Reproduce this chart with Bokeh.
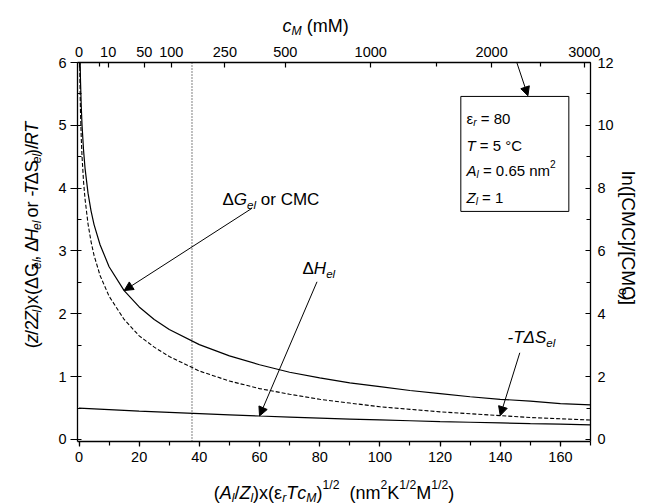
import math
from bokeh.plotting import figure
from bokeh.layouts import column, row
from bokeh.models import (Range1d, LinearAxis, FixedTicker, SingleIntervalTicker,
                          Label, Arrow, NormalHead, BoxAnnotation, Span)
from bokeh.embed import file_html
from bokeh.resources import INLINE

W, H = 645, 504
FL, FR, FT, FB = 77, 592, 62, 441     # plot frame edges in page pixels
TOP_H, BOT_H, LEFT_W, RIGHT_W = 38, 32, 48, 29
MID_H = H - TOP_H - BOT_H
MAIN_W = W - LEFT_W - RIGHT_W
FONT = "Liberation Sans"

# ---------------- data ----------------
x_curve = [0.2, 0.3, 0.5, 0.75, 1, 1.5, 2, 3, 4, 5, 7, 10, 15, 20, 25, 30, 40, 50,
           60, 70, 80, 90, 100, 110, 120, 130, 140, 150, 160, 170]
dG_el = [6.62, 6.21, 5.70, 5.30, 5.01, 4.61, 4.32, 3.92, 3.64, 3.42, 3.10, 2.75, 2.37,
         2.11, 1.91, 1.75, 1.51, 1.33, 1.19, 1.07, 0.98, 0.90, 0.84, 0.78, 0.73, 0.68,
         0.64, 0.61, 0.57, 0.55]
mTdS_el = [6.12, 5.71, 5.20, 4.80, 4.51, 4.11, 3.83, 3.43, 3.15, 2.93, 2.61, 2.28, 1.91,
           1.65, 1.47, 1.32, 1.09, 0.93, 0.81, 0.72, 0.64, 0.58, 0.52, 0.48, 0.44, 0.41,
           0.38, 0.35, 0.33, 0.31]
x_H = [0, 10, 20, 30, 40, 50, 60, 70, 80, 90, 100, 110, 120, 130, 140, 150, 160, 170]
dH_el = [0.50, 0.476, 0.453, 0.432, 0.411, 0.392, 0.374, 0.357, 0.340, 0.325, 0.311,
         0.298, 0.285, 0.274, 0.263, 0.252, 0.243, 0.233]

cm_major = [0, 10, 50, 100, 250, 500, 1000, 2000, 3000]   # top axis, mM
cm_minor = [5, 1500, 2500]
cm_marker = 150                                            # dotted line, mM

eps_r, T_K, A_l, Z_l = 80, 278.15, 0.65, 1


def x_of_cm(c):
    return round(A_l / Z_l * math.sqrt(eps_r * T_K * c / 1000.0), 4)


# ---------------- text helper (rich text from pieces) ----------------
WT = {' ': 278, '(': 333, ')': 333, ',': 278, '-': 333, '.': 278, '/': 278, '=': 584,
      'A': 667, 'C': 722, 'G': 778, 'H': 722, 'K': 667, 'M': 833, 'R': 722, 'S': 667,
      'T': 611, 'Z': 611, '[': 278, ']': 278, 'c': 500, 'e': 556, 'l': 222, 'm': 833,
      'n': 556, 'o': 556, 'r': 333, 'x': 500, 'z': 500, '°': 400, 'Δ': 668, 'ε': 450}


def tw(s, fs):
    return sum(WT.get(ch, 556) for ch in s) * fs / 1000.0


def rich(fig, conv, units, segs, X, Y, fs, angle=0.0, align='left'):
    """segs: (text, kind) kind: n normal, i italic, bi/bn sub, pi/pn sup.
    X, Y: baseline start in page pixels (y downward); conv maps them to fig coords."""
    info = []
    total = 0.0
    for t, k in segs:
        small = len(k) == 2 and k[0] in 'bp'
        f = fs * 0.68 if small else fs
        w = tw(t, f)
        info.append((f, w))
        total += w
    adv = {'left': 0.0, 'center': -total / 2, 'right': -total}[align]
    ux, uy = math.cos(angle), -math.sin(angle)
    vx, vy = -math.sin(angle), -math.cos(angle)
    for (t, k), (f, w) in zip(segs, info):
        shift = 0.0
        if len(k) == 2 and k[0] == 'b':
            shift = -0.28 * fs
        elif len(k) == 2 and k[0] == 'p':
            shift = 0.42 * fs
        italic = k.endswith('i')
        lead = len(t) - len(t.lstrip(' '))
        a = adv + tw(' ' * lead, f)
        txt = t.strip(' ')
        if txt:
            lx, ly = conv(X + ux * a + vx * shift, Y + uy * a + vy * shift)
            fig.add_layout(Label(x=lx, y=ly, x_units=units, y_units=units,
                                 text=txt, text_font=FONT, text_font_size=f"{f:.1f}px",
                                 text_font_style='italic' if italic else 'normal',
                                 text_color='black', text_align='left',
                                 text_baseline='alphabetic', angle=angle))
        adv += w


def strip(w, h):
    f = figure(width=w, height=h, output_backend="svg", toolbar_location=None,
               x_range=Range1d(0, w), y_range=Range1d(0, h), min_border=0,
               x_axis_location=None, y_axis_location=None)
    f.grid.visible = False
    f.outline_line_color = None
    f.background_fill_color = 'white'
    f.border_fill_color = 'white'
    return f


# ---------------- main figure ----------------
p = figure(width=MAIN_W, height=MID_H, output_backend="svg", toolbar_location=None,
           x_range=Range1d(-0.5, 170), y_range=Range1d(-0.032, 6),
           min_border_left=FL - LEFT_W, min_border_right=W - RIGHT_W - FR,
           min_border_top=FT - TOP_H, min_border_bottom=H - BOT_H - FB)
p.grid.visible = False
p.outline_line_color = None
p.background_fill_color = 'white'
p.border_fill_color = 'white'


def style(ax):
    ax.axis_line_color = 'black'
    ax.axis_line_width = 1.3
    ax.major_tick_line_color = 'black'
    ax.minor_tick_line_color = 'black'
    ax.major_tick_line_width = 1.2
    ax.minor_tick_line_width = 1.2
    ax.major_label_text_font = FONT
    ax.major_label_text_font_size = "14.5px"
    ax.major_label_text_color = 'black'


xb = p.xaxis[0]
xb.ticker = SingleIntervalTicker(interval=20, num_minor_ticks=2)
style(xb)
xb.major_tick_out, xb.major_tick_in = 5, 0
xb.minor_tick_out, xb.minor_tick_in = 4, 0
xb.major_label_standoff = 5

yl = p.yaxis[0]
yl.ticker = SingleIntervalTicker(interval=1, num_minor_ticks=2)
style(yl)
yl.major_tick_out, yl.major_tick_in = 7, 0
yl.minor_tick_out, yl.minor_tick_in = 0, 4
yl.major_label_standoff = 4

top_pos = [x_of_cm(c) for c in cm_major]
top = LinearAxis(ticker=FixedTicker(ticks=top_pos, minor_ticks=[x_of_cm(c) for c in cm_minor]),
                 major_label_overrides={pos: str(c) for pos, c in zip(top_pos, cm_major)})
style(top)
top.major_tick_out, top.major_tick_in = 0, 5
top.minor_tick_out, top.minor_tick_in = 0, 4
top.major_label_standoff = 6
p.add_layout(top, 'above')

p.extra_y_ranges = {"cmc": Range1d(-0.064, 12)}
yr = LinearAxis(y_range_name="cmc", ticker=SingleIntervalTicker(interval=2, num_minor_ticks=2))
style(yr)
yr.major_tick_out, yr.major_tick_in = 0, 5
yr.minor_tick_out, yr.minor_tick_in = 0, 4
yr.major_label_standoff = 7
p.add_layout(yr, 'right')

# ---------------- curves ----------------
p.line(x_curve, dG_el, line_color='black', line_width=1.2)
p.line(x_curve, mTdS_el, line_color='black', line_width=1.1, line_dash="4 2")
p.line(x_H, dH_el, line_color='black', line_width=1.2)

p.add_layout(Span(location=x_of_cm(cm_marker), dimension='height', line_color='black',
                  line_width=1, line_dash="1 2"))

# parameter box
p.add_layout(BoxAnnotation(left=126.9, right=162.8, bottom=3.63, top=5.46,
                           fill_alpha=0, line_color='black', line_width=1, line_alpha=1))


def arrow(x0, y0, x1, y1):
    p.add_layout(Arrow(end=NormalHead(size=9, fill_color='black', line_color='black',
                                      line_width=1),
                       x_start=x0, y_start=y0, x_end=x1, y_end=y1,
                       line_color='black', line_width=1))


iG = x_curve.index(15)
arrow(57.5, 3.68, x_curve[iG], dG_el[iG])
iH = x_H.index(60)
arrow(79.1, 2.51, x_H[iH], dH_el[iH])
iS = x_curve.index(140)
arrow(146.5, 1.38, x_curve[iS], mTdS_el[iS])
arrow(145.5, 6.0, 149.2, 5.47)

# ---------------- texts inside the plot ----------------
main_conv = lambda X, Y: (X - FL, FB - Y)
rich(p, main_conv, 'screen', [("Δ", 'n'), ("G", 'i'), ("el", 'bi'), (" or CMC", 'n')], 222, 199, 17)
rich(p, main_conv, 'screen', [("Δ", 'n'), ("H", 'i'), ("el", 'bi')], 302, 268, 17)
rich(p, main_conv, 'screen', [("-TΔS", 'i'), ("el", 'bi')], 507, 337, 17)

rich(p, main_conv, 'screen', [("ε", 'n'), ("r", 'bi'), (" = 80", 'n')], 466, 118, 15)
rich(p, main_conv, 'screen', [("T", 'i'), (" = 5 °C", 'n')], 466, 145, 15)
rich(p, main_conv, 'screen', [("A", 'i'), ("l", 'bi'), (" = 0.65 nm", 'n'), ("2", 'pn')], 466, 170, 15)
rich(p, main_conv, 'screen', [("Z", 'i'), ("l", 'bi'), (" = 1", 'n')], 466, 197, 15)

# ---------------- axis titles in strips around the plot ----------------
top_fig = strip(W, TOP_H)
bot_fig = strip(W, BOT_H)
left_fig = strip(LEFT_W, MID_H)
right_fig = strip(RIGHT_W, MID_H)

rich(top_fig, lambda X, Y: (X, TOP_H - Y), 'data',
     [("c", 'i'), ("M", 'bi'), (" (mM)", 'n')], 282, 25, 18)
rich(bot_fig, lambda X, Y: (X, H - Y), 'data',
     [("(", 'n'), ("A", 'i'), ("l", 'bi'), ("/", 'n'), ("Z", 'i'), ("l", 'bi'),
      (")x(ε", 'n'), ("r", 'bi'), ("T", 'i'), ("c", 'i'), ("M", 'bi'), (")", 'n'),
      ("1/2", 'pn'), ("  (nm", 'n'), ("2", 'pn'), ("K", 'n'), ("1/2", 'pn'),
      ("M", 'n'), ("1/2", 'pn'), (")", 'n')], 333.5, 492, 18, align='center')
rich(left_fig, lambda X, Y: (X, H - BOT_H - Y), 'data',
     [("(", 'n'), ("z", 'i'), ("/2", 'n'), ("Z", 'i'), ("l", 'bi'), (")x(ΔG", 'n'),
      ("el", 'bi'), (", Δ", 'n'), ("H", 'i'), ("el", 'bi'), (" or -", 'n'), ("T", 'i'),
      ("ΔS", 'n'), ("el", 'bi'), (")/", 'n'), ("RT", 'i')],
     31, 237, 18, angle=math.pi / 2, align='center')
rich(right_fig, lambda X, Y: (X - (W - RIGHT_W), H - BOT_H - Y), 'data',
     [("ln([CMC]/[CMC]", 'n'), ("o", 'bn'), (")", 'n')],
     628, 236, 19, angle=-math.pi / 2, align='center')

layout = column(top_fig, row(left_fig, p, right_fig), bot_fig)
open("out.html", "w").write(file_html(layout, INLINE))
